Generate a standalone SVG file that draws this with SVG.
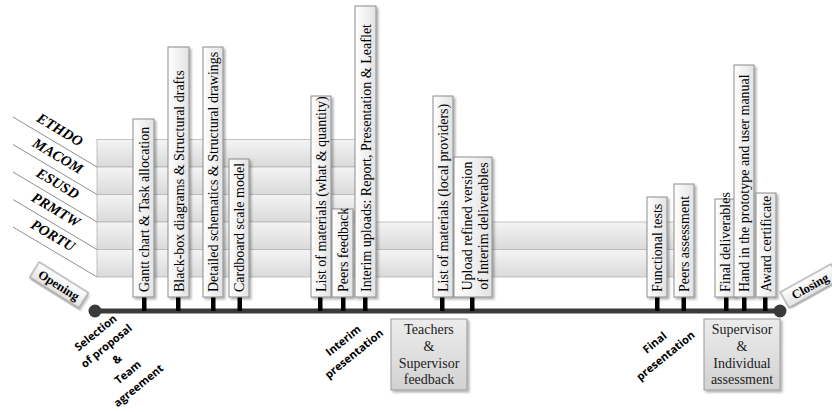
<svg xmlns="http://www.w3.org/2000/svg" width="832" height="412" viewBox="0 0 832 412">
<defs>
<linearGradient id="gBand" x1="0" y1="0" x2="0" y2="1"><stop offset="0" stop-color="#f4f4f4"/><stop offset="1" stop-color="#dadada"/></linearGradient>
<linearGradient id="gBox" x1="0" y1="0" x2="1" y2="0"><stop offset="0" stop-color="#ffffff"/><stop offset="1" stop-color="#e3e3e3"/></linearGradient>
<linearGradient id="gFb" x1="0" y1="0" x2="0" y2="1"><stop offset="0" stop-color="#ececec"/><stop offset="1" stop-color="#d2d2d2"/></linearGradient>
<linearGradient id="gTag" x1="0" y1="0" x2="0" y2="1"><stop offset="0" stop-color="#ffffff"/><stop offset="1" stop-color="#e2e2e2"/></linearGradient>
<filter id="sh" x="-20%" y="-5%" width="150%" height="115%"><feDropShadow dx="2" dy="2" stdDeviation="1.2" flood-color="#000" flood-opacity="0.3"/></filter>
</defs>
<style>
.band{fill:url(#gBand);stroke:#b3b3b3;stroke-width:0.8}
.diag{stroke:#8f8f8f;stroke-width:1;fill:none}
.blab{font-family:"Liberation Serif",serif;font-weight:bold;font-style:italic;font-size:14.5px;fill:#000;text-anchor:middle}
.box{fill:url(#gBox);stroke:#8c8c8c;stroke-width:1;filter:url(#sh)}
.vt{font-family:"Liberation Serif",serif;font-size:14px;fill:#000}
.stem{fill:#000}
.tl{stroke:#3a3a3a;stroke-width:5}
.dot{fill:#3a3a3a}
.tag{fill:url(#gTag);stroke:#8c8c8c;stroke-width:1;filter:url(#sh)}
.tagt{font-family:"Liberation Serif",serif;font-weight:bold;font-size:12.5px;text-anchor:middle;fill:#000}
.ms{font-family:"Open Sans","DejaVu Sans",sans-serif;font-weight:bold;font-size:11px;text-anchor:middle;fill:#000}
.fb{fill:url(#gFb);stroke:#999;stroke-width:1;filter:url(#sh)}
.fbt{font-family:"Liberation Serif",serif;font-size:14px;text-anchor:middle;fill:#222}
</style>

<g id="bands">
<rect class="band" x="97" y="139.5" width="265" height="27.5"/>
<rect class="band" x="97" y="167" width="265" height="27.5"/>
<rect class="band" x="97" y="194.5" width="265" height="27.5"/>
<rect class="band" x="97" y="222" width="583" height="27.5"/>
<rect class="band" x="97" y="249.5" width="583" height="27.5"/>
</g>

<g id="band-labels">
<g id="ETHDO"><line class="diag" x1="13" y1="117" x2="97" y2="167"/><text class="blab" transform="translate(60,129.5) rotate(30.8)" y="5">ETHDO</text></g>
<g id="MACOM"><line class="diag" x1="13" y1="144.5" x2="97" y2="194.5"/><text class="blab" transform="translate(58,155.8) rotate(30.8)" y="5">MACOM</text></g>
<g id="ESUSD"><line class="diag" x1="13" y1="172" x2="97" y2="222"/><text class="blab" transform="translate(58,183.3) rotate(30.8)" y="5">ESUSD</text></g>
<g id="PRMTW"><line class="diag" x1="13" y1="199.5" x2="97" y2="249.5"/><text class="blab" transform="translate(56,209.6) rotate(30.8)" y="5">PRMTW</text></g>
<g id="PORTU"><line class="diag" x1="13" y1="227" x2="97" y2="277"/><text class="blab" transform="translate(53,235.3) rotate(30.8)" y="5">PORTU</text></g>
</g>

<g id="connectors">
<line class="tl" x1="95" y1="311" x2="780" y2="311"/>
<rect class="stem" x="142" y="297" width="4.5" height="14"/>
<rect class="stem" x="176" y="297" width="4.5" height="14"/>
<rect class="stem" x="211" y="297" width="4.5" height="14"/>
<rect class="stem" x="237.5" y="297" width="4.5" height="14"/>
<rect class="stem" x="318" y="297" width="4.5" height="14"/>
<rect class="stem" x="341" y="297" width="4.5" height="14"/>
<rect class="stem" x="363" y="297" width="4.5" height="14"/>
<rect class="stem" x="440" y="297" width="4.5" height="14"/>
<rect class="stem" x="470" y="297" width="4.5" height="14"/>
<rect class="stem" x="655" y="297" width="4.5" height="14"/>
<rect class="stem" x="681.5" y="297" width="4.5" height="14"/>
<rect class="stem" x="724" y="297" width="4.5" height="14"/>
<rect class="stem" x="742" y="297" width="4.5" height="14"/>
<rect class="stem" x="763" y="297" width="4.5" height="14"/>
<circle class="dot" cx="95" cy="311" r="6.5"/>
<circle class="dot" cx="780" cy="311" r="6.5"/>
</g>

<g id="opening"><g transform="translate(59,285) rotate(32)"><rect class="tag" x="-29" y="-9" width="58" height="18"/><text class="tagt" y="4.5">Opening</text></g></g>
<g id="closing"><g transform="translate(810,286) rotate(-29)"><rect class="tag" x="-29" y="-9" width="58" height="18"/><text class="tagt" y="4.5">Closing</text></g></g>

<g id="gantt"><rect class="box" x="133" y="119" width="21" height="178"/><text class="vt" transform="translate(148.5,292) rotate(-90)">Gantt chart &amp; Task allocation</text></g>
<g id="blackbox"><rect class="box" x="168" y="47" width="21" height="250"/><text class="vt" transform="translate(183.5,292) rotate(-90)">Black-box diagrams &amp; Structural drafts</text></g>
<g id="detailed"><rect class="box" x="203" y="47" width="20" height="250"/><text class="vt" transform="translate(218,292) rotate(-90)">Detailed schematics &amp; Structural drawings</text></g>
<g id="cardboard"><rect class="box" x="229" y="159" width="20" height="138"/><text class="vt" transform="translate(244,292) rotate(-90)">Cardboard scale model</text></g>
<g id="list1"><rect class="box" x="311" y="96" width="20" height="201"/><text class="vt" transform="translate(326,292) rotate(-90)">List of materials (what &amp; quantity)</text></g>
<g id="peersfb"><rect class="box" x="332" y="209" width="21" height="88"/><text class="vt" transform="translate(347.5,292) rotate(-90)">Peers feedback</text></g>
<g id="interim"><rect class="box" x="355" y="6" width="21" height="291"/><text class="vt" transform="translate(370.5,292) rotate(-90)" textLength="268" lengthAdjust="spacingAndGlyphs">Interim uploads: Report,  Presentation &amp; Leaflet</text></g>
<g id="list2"><rect class="box" x="433" y="96" width="20" height="201"/><text class="vt" transform="translate(448,292) rotate(-90)">List of materials (local providers)</text></g>
<g id="upload"><rect class="box" x="454" y="157" width="38" height="140"/><text class="vt" text-anchor="middle" transform="translate(472,226) rotate(-90)">Upload refined version</text><text class="vt" text-anchor="middle" transform="translate(488,226) rotate(-90)">of Interim deliverables</text></g>
<g id="functional"><rect class="box" x="647" y="197" width="20" height="100"/><text class="vt" transform="translate(662,292) rotate(-90)">Functional tests</text></g>
<g id="peersas"><rect class="box" x="674" y="184" width="20" height="113"/><text class="vt" transform="translate(689,292) rotate(-90)">Peers assessment</text></g>
<g id="finaldel"><rect class="box" x="715" y="199" width="20" height="98"/><text class="vt" transform="translate(730,292) rotate(-90)">Final deliverables</text></g>
<g id="handin"><rect class="box" x="734" y="65" width="20" height="232"/><text class="vt" transform="translate(749,292) rotate(-90)">Hand in the prototype and user manual</text></g>
<g id="award"><rect class="box" x="756" y="193" width="20" height="104"/><text class="vt" transform="translate(771,292) rotate(-90)">Award certificate</text></g>

<g id="m-selection"><g transform="translate(117,359) rotate(-39)">
<text class="ms" y="-30">Selection</text><text class="ms" y="-13">of proposal</text><text class="ms" y="4">&amp;</text><text class="ms" y="21">Team</text><text class="ms" y="38">agreement</text></g></g>
<g id="m-interim"><g transform="translate(348.5,347) rotate(-39)"><text class="ms" y="-4.5">Interim</text><text class="ms" y="12.5">presentation</text></g></g>
<g id="m-final"><g transform="translate(660,349) rotate(-39)"><text class="ms" y="-4.5">Final</text><text class="ms" y="12.5">presentation</text></g></g>

<g id="teachers-fb"><rect class="fb" x="391" y="319" width="76" height="71"/>
<text class="fbt" x="429" y="334">Teachers</text><text class="fbt" x="429" y="351">&amp;</text><text class="fbt" x="429" y="367.5">Supervisor</text><text class="fbt" x="429" y="384">feedback</text></g>
<g id="supervisor-as"><rect class="fb" x="704" y="319" width="76" height="71"/>
<text class="fbt" x="742" y="334">Supervisor</text><text class="fbt" x="742" y="351">&amp;</text><text class="fbt" x="742" y="367.5">Individual</text><text class="fbt" x="742" y="384">assessment</text></g>
</svg>
